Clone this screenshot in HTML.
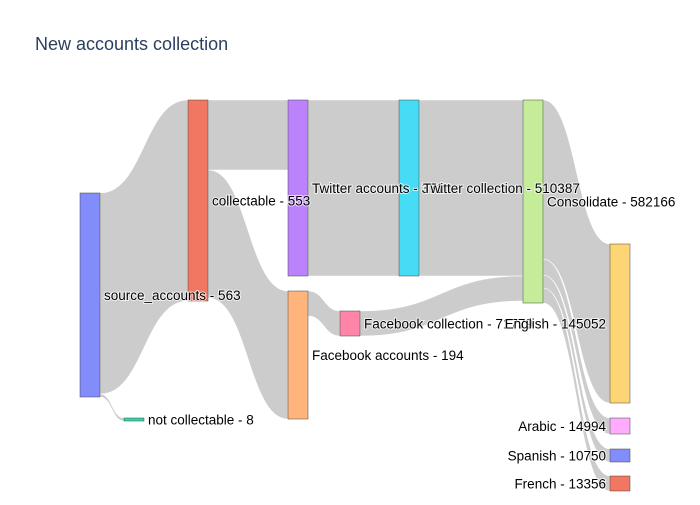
<!DOCTYPE html>
<html><head><meta charset="utf-8"><style>
body{margin:0;background:#fff}
svg text{font-family:"Liberation Sans",sans-serif}
.lbl{font-size:13.5px;fill:#000;paint-order:stroke;stroke:#fff;stroke-width:2px;stroke-opacity:.7}
</style></head><body>
<svg id="c" width="700" height="500">
<text x="35" y="50" font-size="18" fill="#2a3f5f">New accounts collection</text>
<g id="links"></g>
<g id="nodes"></g>
<g id="labels"></g>
</svg>
<script>
const nodeLabels=["source_accounts - 563","not collectable - 8","collectable - 553","Twitter accounts - 371","Facebook accounts - 194","Twitter collection - 510387","Facebook collection - 71779","Consolidate - 582166","English - 145052","Arabic - 14994","Spanish - 10750","French - 13356"];
const nodeColors=["#838cfb","#33d6ab","#f27762","#bc82fb","#ffb47b","#47dcf5","#ff85a8","#c5ed99","#fed575","#ffacff","#838cfb","#f27762"];
const linkSource=[0,0,2,2,3,4,5,6,7,7,7,7];
const linkTarget=[2,1,3,4,5,6,7,7,8,9,10,11];
const linkValue=[201,3,70,128,176,25,176,25,159,16,13,15];
// layout (node x left, y top in px)
const nodeX=[80,124,188,288,288,399,340,523,610,610,610,610];
const nodeY=[193,418,100,100,291,100,311,100,244,418,449,476];
const W=20,NS="http://www.w3.org/2000/svg";
const n=nodeLabels.length,inS=Array(n).fill(0),outS=Array(n).fill(0);
linkValue.forEach((v,i)=>{outS[linkSource[i]]+=v;inS[linkTarget[i]]+=v;});
const H=nodeLabels.map((_,i)=>Math.max(inS[i],outS[i],3));
const oOff=Array(n).fill(0),iOff=Array(n).fill(0);
const lg=document.getElementById('links'),ng=document.getElementById('nodes'),tg=document.getElementById('labels');
linkValue.forEach((v,i)=>{
 const s=linkSource[i],t=linkTarget[i];
 const x0=nodeX[s]+W,x1=nodeX[t],y0=nodeY[s]+oOff[s],y1=nodeY[t]+iOff[t];
 oOff[s]+=v;iOff[t]+=v;const xm=(x0+x1)/2;
 const p=document.createElementNS(NS,'path');
 p.setAttribute('d',`M${x0},${y0}C${xm},${y0} ${xm},${y1} ${x1},${y1}L${x1},${y1+v}C${xm},${y1+v} ${xm},${y0+v} ${x0},${y0+v}Z`);
 p.setAttribute('fill','rgba(0,0,0,0.2)');p.setAttribute('stroke','#fff');p.setAttribute('stroke-width','0.5');
 
 
 lg.appendChild(p);
});
nodeLabels.forEach((lab,i)=>{
 const r=document.createElementNS(NS,'rect');
 r.setAttribute('x',nodeX[i]);r.setAttribute('y',nodeY[i]);r.setAttribute('width',W);r.setAttribute('height',H[i]);
 r.setAttribute('fill',nodeColors[i]);r.setAttribute('stroke','#444');r.setAttribute('stroke-width','0.5');
 
 
 ng.appendChild(r);
 const t=document.createElementNS(NS,'text');
 const last=nodeX[i]>=600;
 t.setAttribute('x',last?nodeX[i]-4:nodeX[i]+W+4);t.setAttribute('y',nodeY[i]+H[i]/2+5);
 if(last)t.setAttribute('text-anchor','end');
 t.setAttribute('class','lbl');t.textContent=lab;
 
 
 tg.appendChild(t);
});
</script>
</body></html>
